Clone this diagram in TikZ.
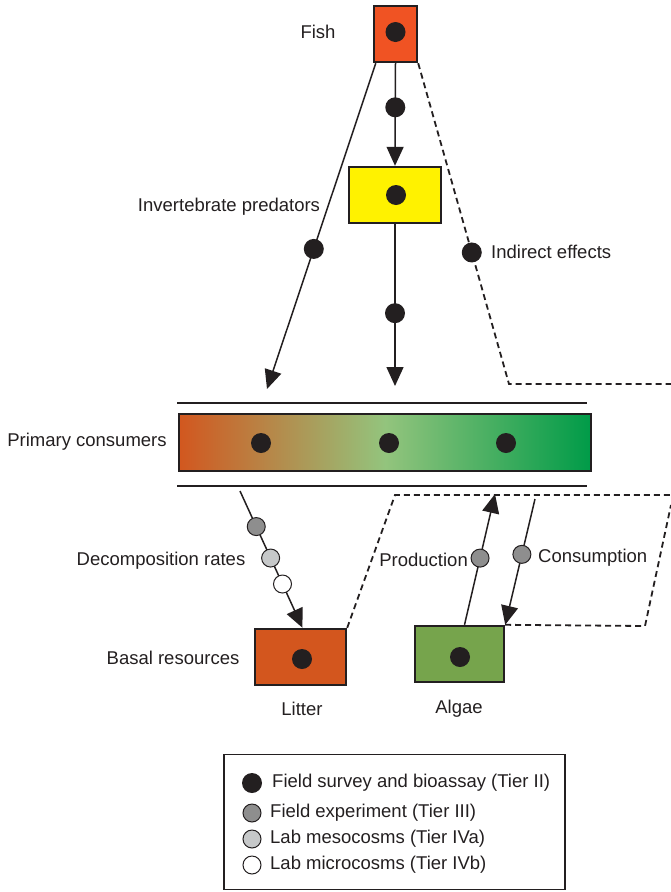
\documentclass[tikz,border=0pt]{standalone}
\usepackage{fontspec}
\setmainfont{Liberation Sans}
\usetikzlibrary{arrows.meta}
\definecolor{fishc}{HTML}{F05323}
\definecolor{yellowc}{HTML}{FFF200}
\definecolor{litterc}{HTML}{D3561E}
\definecolor{algaec}{HTML}{76A44C}
\definecolor{dotc}{HTML}{231F20}
\definecolor{gradL}{HTML}{D2571F}
\definecolor{gradM}{HTML}{93C47D}
\definecolor{gradR}{HTML}{009B48}
\definecolor{darkg}{HTML}{8E8E8E}
\definecolor{lightg}{HTML}{C6C8C9}
\begin{document}
\begin{tikzpicture}[x=1pt,y=-1pt,
  lbl/.style={font=\fontsize{18.5}{22}\selectfont, inner sep=0pt, text=dotc},
  boxnode/.style={draw=dotc, line width=2.4pt, inner sep=0pt},
  dot/.style={circle, fill=dotc, minimum size=20pt, inner sep=0pt},
  tdot/.style={circle, draw=dotc, line width=1pt, fill=#1, minimum size=18pt, inner sep=0pt},
  arr/.style={draw=dotc, line width=1.5pt, -{Triangle[length=19pt,width=17pt]}},
  plain/.style={draw=dotc, line width=1.5pt},
  dsh/.style={draw=dotc, line width=1.8pt, dash pattern=on 6pt off 4pt}
]
\useasboundingbox (0,0) rectangle (671,892);

% boxes
\node[boxnode, fill=fishc, minimum width=43pt, minimum height=56pt] (fish) at (395.5,34) {};
\node[boxnode, fill=yellowc, minimum width=92pt, minimum height=56pt] (inv) at (395,195) {};
\node[boxnode, left color=gradL, right color=gradR, middle color=gradM, minimum width=412pt, minimum height=57pt] (pc) at (385,442.5) {};
\node[boxnode, fill=litterc, minimum width=91pt, minimum height=56pt] (litter) at (300.5,657) {};
\node[boxnode, fill=algaec, minimum width=89pt, minimum height=56pt] (algae) at (459.5,654) {};

% dots inside boxes
\node[dot] (dfish) at (395.5,32) {};
\node[dot] (dinv) at (396,195) {};
\node[dot] (dpc1) at (261,443) {};
\node[dot] (dpc2) at (389,443) {};
\node[dot] (dpc3) at (506,443) {};
\node[dot] (dlit) at (302,659) {};
\node[dot] (dalg) at (460,657) {};

% lines above/below primary consumers
\draw[plain] (177,403) -- (587,403);
\draw[plain] (177,486) -- (587,486);

% dashed indirect effect lines
\coordinate (c1) at (509,384);
\coordinate (c2) at (671,384);
\draw[dsh] (fish.south east) -- node[dot, pos=0.59] (dind) {} (c1) -- (c2);
\coordinate (c3) at (395,495);
\coordinate (c4) at (671,495);
\draw[dsh] (litter.north east) -- (c3) -- (c4);
\coordinate (c5) at (645,626);
\coordinate (c6) at (671,505);
\draw[dsh] (algae.north east) -- (c5) -- (c6);

% arrows from fish
\coordinate (tipL) at (267,389);
\draw[arr] ([xshift=3pt]fish.south west) -- node[dot, pos=0.57] (dleft) {} (tipL);
\draw[arr] (fish.south) -- node[dot, pos=0.43] (dmid) {} (inv.north);
\coordinate (tipM) at (395,386);
\draw[arr] (inv.south) -- node[dot, pos=0.55] (dmid2) {} (tipM);

% decomposition
\coordinate (decTop) at (240,491);
\draw[arr] (decTop) -- node[tdot=darkg, pos=0.26] (dd1) {}
  node[tdot=lightg, pos=0.49] (dd2) {}
  node[tdot=white, pos=0.68] (dd3) {} ([xshift=2pt]litter.north);

% production / consumption
\coordinate (prodTip) at (495,494);
\draw[arr] ([xshift=5pt]algae.north) -- node[tdot=darkg, pos=0.51] (dprod) {} (prodTip);
\coordinate (consTop) at (535,499);
\draw[arr] (consTop) -- node[tdot=darkg, pos=0.44] (dcons) {} (algae.north east);

% labels
\node[lbl] (lfish) at (318,32) {Fish};
\node[lbl] (linv) at (229,207) {Invertebrate predators};
\node[lbl, anchor=west] (lind) at (491,252) {Indirect effects};
\node[lbl] (lpc) at (87,442) {Primary consumers};
\node[lbl] (ldec) at (161,561) {Decomposition rates};
\node[lbl, anchor=east] (lprod) at (468,560) {Production};
\node[lbl, anchor=west] (lcons) at (538,558) {Consumption};
\node[lbl] (lbasal) at (173,658) {Basal resources};
\node[lbl] (llit) at (302,709) {Litter};
\node[lbl] (lalg) at (459,709) {Algae};

% legend
\node[draw=dotc, line width=1.6pt, minimum width=341pt, minimum height=135pt, inner sep=0pt] (legend) at (394.5,822) {};
\node[dot] (k1) at (252,783) {};
\node[tdot=darkg] (k2) at (252,813) {};
\node[tdot=lightg] (k3) at (252,839) {};
\node[tdot=white] (k4) at (252,865) {};
\node[lbl, anchor=west] (t1) at (272,783) {Field survey and bioassay (Tier II)};
\node[lbl, anchor=west] (t2) at (270,813) {Field experiment (Tier III)};
\node[lbl, anchor=west] (t3) at (270,839) {Lab mesocosms (Tier IVa)};
\node[lbl, anchor=west] (t4) at (270,865) {Lab microcosms (Tier IVb)};
\end{tikzpicture}
\end{document}
